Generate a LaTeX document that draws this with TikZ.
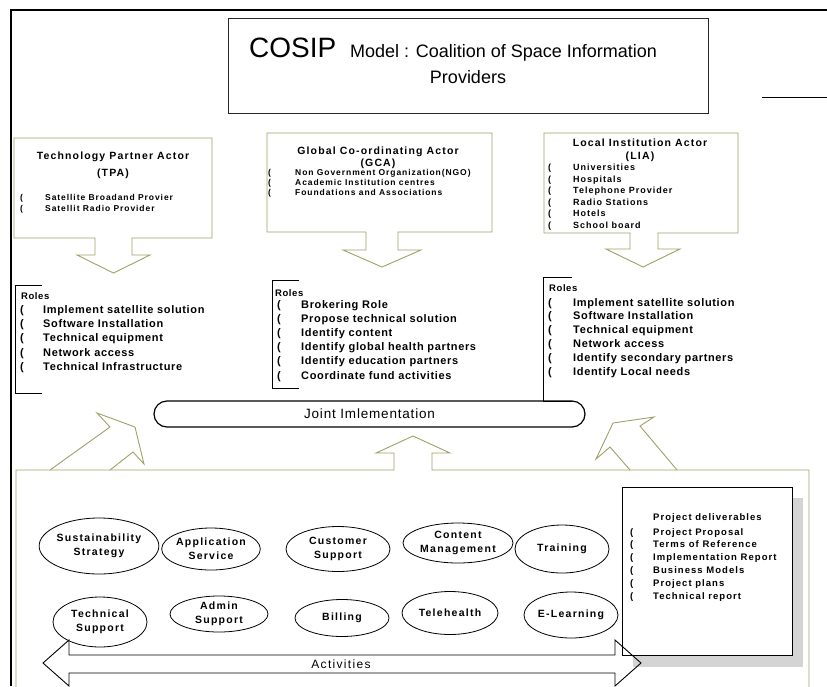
\documentclass[tikz,border=0pt]{standalone}
\usepackage{fontspec}
\setmainfont{Liberation Sans}
\newfontfamily\cosipSmall[LetterSpace=11]{Liberation Sans}
\newfontfamily\cosipRoles[LetterSpace=6]{Liberation Sans}
\newfontfamily\cosipOval[LetterSpace=12]{Liberation Sans}
\newfontfamily\cosipWide[LetterSpace=6]{Liberation Sans}
\usetikzlibrary{shapes.geometric}

\definecolor{actorline}{RGB}{160,160,105}
\definecolor{shadowgray}{RGB}{212,212,212}

\begin{document}
\begin{tikzpicture}[x=1pt,y=-1pt,
  olive/.style={draw=actorline,line width=0.9pt,line join=miter},
  thinline/.style={draw=black,line width=0.9pt},
  txt/.style={inner sep=0pt,anchor=base west},
  ctxt/.style={inner sep=0pt,anchor=base},
  listfont/.style={font=\cosipSmall\bfseries\fontsize{8.5}{10}\selectfont},
  headfont/.style={font=\cosipSmall\bfseries\fontsize{10.5}{12}\selectfont},
  rolefont/.style={font=\cosipRoles\bfseries\fontsize{11}{13}\selectfont},
  rolehead/.style={font=\cosipRoles\bfseries\fontsize{9.5}{11}\selectfont},
  oval/.style={ellipse,draw=black,line width=0.8pt,inner sep=0pt,align=center,
    font=\cosipOval\bfseries\fontsize{10.5}{14}\selectfont},
]
\useasboundingbox (0,0) rectangle (827,686);
\clip (0,0) rectangle (827,686);

% outer frame
\coordinate (frameBL) at (11,686);
\coordinate (frameTL) at (11,10);
\coordinate (frameTR) at (827,10);
\draw[line width=2.6pt] (frameBL) -- (frameTL) -- (frameTR);
\coordinate (stubA) at (762,97);
\coordinate (stubB) at (827,97);
\draw[thinline] (stubA) -- (stubB);

% title
\node[draw=black!85,line width=0.9pt,minimum width=480,minimum height=95,inner sep=0pt]
  (titlebox) at (468,65.5) {};
\node[txt,font=\fontsize{28}{30}\selectfont] (cosip) at (249,57) {COSIP};
\node[txt,font=\fontsize{18}{20}\selectfont] (model) at (350,57)
  {Model : Coalition of Space Information};
\node[ctxt,font=\fontsize{18}{20}\selectfont] (providers) at (468,83) {Providers};

% actor callouts
\draw[olive] (14,138) -- (212,138) -- (212,238) -- (132,238) -- (132,255) -- (150,255)
  -- (113.5,273) -- (77,255) -- (95,255) -- (95,238) -- (14,238) -- cycle;
\draw[olive] (267,133) -- (492,133) -- (492,232) -- (398,232) -- (398,250) -- (421,250)
  -- (382,267) -- (343,250) -- (366,250) -- (366,232) -- (267,232) -- cycle;
\draw[olive] (544,133) -- (738,133) -- (738,233) -- (658,233) -- (658,249) -- (680,249)
  -- (643,267) -- (606,249) -- (630,249) -- (630,233) -- (544,233) -- cycle;

% TPA text
\node[ctxt,headfont] (tpaT1) at (113,159) {Technology Partner Actor};
\node[ctxt,headfont] (tpaT2) at (113,176) {(TPA)};
\foreach \t [count=\i] in {Satellite Broadand Provier,Satellit Radio Provider}{
  \node[txt,listfont] (tpaB\i) at (20,{200+11*(\i-1)}) {(};
  \node[txt,listfont] (tpaI\i) at (45,{200+11*(\i-1)}) {\t};
}

% GCA text
\node[ctxt,headfont] (gcaT1) at (378,154) {Global Co-ordinating Actor};
\node[ctxt,headfont] (gcaT2) at (378,166) {(GCA)};
\foreach \t [count=\i] in {Non Government Organization(NGO),Academic Institution centres,Foundations and Associations}{
  \node[txt,listfont] (gcaB\i) at (268,{175+10*(\i-1)}) {(};
  \node[txt,listfont] (gcaI\i) at (295,{175+10*(\i-1)}) {\t};
}

% LIA text
\node[ctxt,headfont] (liaT1) at (640,146) {Local Institution Actor};
\node[ctxt,headfont] (liaT2) at (640,159) {(LIA)};
\foreach \t [count=\i] in {Universities,Hospitals,Telephone Provider,Radio Stations,Hotels,School board}{
  \node[txt,font=\cosipSmall\bfseries\fontsize{9}{10}\selectfont] (liaB\i) at (548,{170.5+11.5*(\i-1)}) {(};
  \node[txt,font=\cosipSmall\bfseries\fontsize{9}{10}\selectfont] (liaI\i) at (573,{170.5+11.5*(\i-1)}) {\t};
}

% role brackets
\draw[thinline] (42,285) -- (15,285) -- (15,393) -- (42,393);
\draw[thinline] (299,280) -- (272,280) -- (272,388) -- (299,388);
\draw[thinline] (572,277) -- (543,277) -- (543,401) -- (572,401);

\node[txt,rolehead] (roles1) at (21,299) {Roles};
\foreach \t [count=\i] in {Implement satellite solution,Software Installation,Technical equipment,Network access,Technical Infrastructure}{
  \node[txt,rolefont] (r1B\i) at (20,{313.5+14.2*(\i-1)}) {(};
  \node[txt,rolefont] (r1I\i) at (43,{313.5+14.2*(\i-1)}) {\t};
}
\node[txt,rolehead] (roles2) at (275,296) {Roles};
\foreach \t [count=\i] in {Brokering Role,Propose technical solution,Identify content,Identify global health partners,Identify education partners,Coordinate fund activities}{
  \node[txt,rolefont] (r2B\i) at (277,{308+14.2*(\i-1)}) {(};
  \node[txt,rolefont] (r2I\i) at (301,{308+14.2*(\i-1)}) {\t};
}
\node[txt,rolehead] (roles3) at (549,291) {Roles};
\foreach \t [count=\i] in {Implement satellite solution,Software Installation,Technical equipment,Network access,Identify secondary partners,Identify Local needs}{
  \node[txt,rolefont] (r3B\i) at (548,{306+13.9*(\i-1)}) {(};
  \node[txt,rolefont] (r3I\i) at (573,{306+13.9*(\i-1)}) {\t};
}

% joint implementation bar
\node[draw=black,line width=1.2pt,rounded corners=13pt,minimum width=431,minimum height=26,
  inner sep=0pt,font=\cosipWide\fontsize{13.5}{15}\selectfont] (joint) at (369.5,414)
  {Joint Imlementation};

% activities frame with its three upward arrows
\draw[olive] (16,700) -- (16,470) -- (394,470) -- (394,453) -- (376,453) -- (413,436)
  -- (450,453) -- (432,453) -- (432,470) -- (809,470) -- (809,700);
\draw[olive] (50,470) -- (110,427) -- (97,413) -- (135,427) -- (144,464) -- (133,452) -- (110,470);
\draw[olive] (630,470) -- (610,447) -- (596,459) -- (613,423) -- (654,417) -- (640,426) -- (677,470);

% activity ovals
\node[oval,minimum width=104,minimum height=56] (sust) at (99,546) {Sustainability\\Strategy};
\node[oval,minimum width=94,minimum height=42] (appl) at (211,549) {Application\\Service};
\node[oval,minimum width=104,minimum height=45] (cust) at (338,549) {Customer\\Support};
\node[oval,minimum width=110,minimum height=40] (cont) at (458,543) {Content\\Management};
\node[oval,minimum width=94,minimum height=48] (train) at (562,549) {Training};
\node[oval,minimum width=94,minimum height=50] (tech) at (100,622) {Technical\\Support};
\node[oval,minimum width=98,minimum height=36] (admin) at (219,614) {Admin\\Support};
\node[oval,minimum width=94,minimum height=37] (bill) at (342,618) {Billing};
\node[oval,minimum width=96,minimum height=43] (tele) at (450,613) {Telehealth};
\node[oval,minimum width=94,minimum height=46] (elearn) at (571,615) {E-Learning};

% deliverables box with shadow
\fill[shadowgray] (633,498) rectangle (803,667);
\node[draw=black,line width=1pt,fill=white,minimum width=170,minimum height=168,inner sep=0pt]
  (deliv) at (707,571) {};
\node[txt,font=\cosipSmall\bfseries\fontsize{9.5}{11}\selectfont] (delivT) at (653,520) {Project deliverables};
\foreach \t [count=\i] in {Project Proposal,Terms of Reference,Implementation Report,Business Models,Project plans,Technical report}{
  \node[txt,font=\cosipSmall\bfseries\fontsize{9.5}{11}\selectfont] (dB\i) at (630,{535+12.8*(\i-1)}) {(};
  \node[txt,font=\cosipSmall\bfseries\fontsize{9.5}{11}\selectfont] (dI\i) at (653,{535+12.8*(\i-1)}) {\t};
}

% activities double arrow
\draw[thinline,line join=miter] (69,655) -- (615,655) -- (615,640) -- (641,663) -- (615,686) -- (615,673)
  -- (69,673) -- (69,686) -- (43,663) -- (69,640) -- cycle;
\node[font=\cosipSmall\fontsize{12}{14}\selectfont,inner sep=0pt] (activ) at (341,664) {Activities};

\end{tikzpicture}
\end{document}
